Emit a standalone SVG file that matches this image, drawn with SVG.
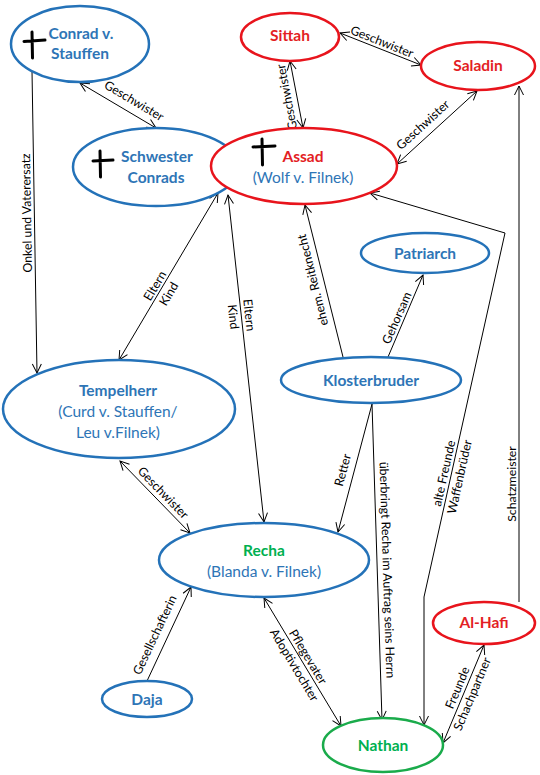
<svg xmlns="http://www.w3.org/2000/svg" width="540" height="775" viewBox="0 0 540 775">
<defs>
<marker id="arr" markerUnits="userSpaceOnUse" markerWidth="12" markerHeight="12" refX="9" refY="4.5" orient="auto-start-reverse" overflow="visible">
<path d="M0,0 L9,4.5 L0,9" fill="none" stroke="#000" stroke-width="1"/>
</marker>
<style>
.bg{fill:#fff}
.nb{fill:#fff;stroke:#2472b8;stroke-width:2.5}
.nr{fill:#fff;stroke:#e8141c;stroke-width:2.5}
.ng{fill:#fff;stroke:#1aab4b;stroke-width:2.5}
.t{font-family:Lato,"Liberation Sans",sans-serif;font-size:15.5px;text-anchor:middle}
.b{font-weight:bold}
.cb{fill:#2e75b6}
.cr{fill:#e31e24}
.cg{fill:#00b050}
.cross{stroke:#000;stroke-width:3;stroke-linecap:round;fill:none}
.e{fill:none;stroke:#000;stroke-width:1}
.bi{marker-start:url(#arr);marker-end:url(#arr)}
.un{marker-end:url(#arr)}
.l{font-family:Lato,"Liberation Sans",sans-serif;font-size:12.3px;text-anchor:middle;fill:#000}
</style>
</defs>
<rect class="bg" x="0" y="0" width="540" height="775"/>

<g id="connectors">
<line class="e bi" x1="80" y1="83" x2="156" y2="128"/>
<line class="e un" x1="32" y1="71" x2="37" y2="373"/>
<line class="e bi" x1="340" y1="33" x2="421" y2="65"/>
<line class="e bi" x1="290" y1="61" x2="303" y2="128"/>
<line class="e bi" x1="477" y1="91" x2="397" y2="164"/>
<line class="e bi" x1="218" y1="193" x2="119" y2="360"/>
<line class="e bi" x1="228" y1="195" x2="264" y2="522"/>
<line class="e un" x1="343" y1="357" x2="305" y2="205"/>
<line class="e un" x1="388" y1="357" x2="423" y2="275"/>
<polyline class="e bi" points="370,193 505,233 424,597 424,725"/>
<line class="e un" x1="519" y1="602" x2="519" y2="86"/>
<line class="e un" x1="372" y1="404" x2="338" y2="532"/>
<line class="e un" x1="372" y1="404" x2="382" y2="720"/>
<line class="e bi" x1="120" y1="461" x2="190" y2="533"/>
<line class="e un" x1="147" y1="681" x2="191" y2="587"/>
<line class="e bi" x1="264" y1="598" x2="341" y2="726"/>
<line class="e bi" x1="443" y1="743" x2="484" y2="645"/>

<text class="l" transform="translate(134,101) rotate(30.6)" y="4">Geschwister</text>
<text class="l" transform="translate(27,213) rotate(-91)" y="4">Onkel und Vaterersatz</text>
<text class="l" transform="translate(382,42) rotate(21.6)" y="4">Geschwister</text>
<text class="l" transform="translate(287,97) rotate(-100.8)" y="4">Geschwister</text>
<text class="l" transform="translate(423,125) rotate(-42.4)" y="4">Geschwister</text>
<text class="l" transform="translate(313,280) rotate(-104)" y="4">ehem. Reitknecht</text>
<text class="l" transform="translate(397,318) rotate(-66.4)" y="4">Gehorsam</text>
<text class="l" transform="translate(512,484) rotate(-90)" y="4">Schatzmeister</text>
<text class="l" transform="translate(343,470) rotate(-75)" y="4">Retter</text>
<text class="l" transform="translate(387,570) rotate(88.2)" y="4">überbringt Recha im Auftrag seins Herrn</text>
<text class="l" transform="translate(163,493) rotate(45.8)" y="4">Geschwister</text>
<text class="l" transform="translate(155,635) rotate(-64.7)" y="4">Gesellschafterin</text>
<text class="l" transform="translate(162,290) rotate(-59.3)"><tspan x="0" y="-4">Eltern</tspan><tspan x="0" y="12">Kind</tspan></text>
<text class="l" transform="translate(241,316) rotate(83.7)"><tspan x="0" y="-4">Eltern</tspan><tspan x="0" y="12">Kind</tspan></text>
<text class="l" transform="translate(452,475) rotate(-77.5)"><tspan x="0" y="-4">alte Freunde</tspan><tspan x="0" y="12">Waffenbrüder</tspan></text>
<text class="l" transform="translate(301,661) rotate(59)"><tspan x="0" y="-4">Pflegevater</tspan><tspan x="0" y="12">Adoptivtochter</tspan></text>
<text class="l" transform="translate(465,691) rotate(-67.3)"><tspan x="0" y="-4">Freunde</tspan><tspan x="0" y="12">Schachpartner</tspan></text>
</g>

<g id="conrad">
<ellipse class="nb" cx="80" cy="44" rx="69" ry="38"/>
<path class="cross" d="M32,32 L32.5,58 M24,41.5 L45,40"/>
<text class="t b cb" x="81" y="39">Conrad v.</text>
<text class="t b cb" x="80" y="59">Stauffen</text>
</g>

<g id="schwester">
<ellipse class="nb" cx="156" cy="167" rx="83" ry="39"/>
<path class="cross" d="M100,151 L100.5,177 M93,161 L113,160"/>
<text class="t b cb" x="157" y="162">Schwester</text>
<text class="t b cb" x="156" y="183">Conrads</text>
</g>

<g id="assad">
<ellipse class="nr" cx="304" cy="166" rx="93" ry="38"/>
<path class="cross" d="M262,139 L262.5,165 M253,147 L275,146"/>
<text class="t b cr" x="303" y="162">Assad</text>
<text class="t cb" x="303" y="183">(Wolf v. Filnek)</text>
</g>

<g id="sittah">
<ellipse class="nr" cx="290" cy="37" rx="49" ry="24"/>
<text class="t b cr" x="290" y="41">Sittah</text>
</g>

<g id="saladin">
<ellipse class="nr" cx="478" cy="66" rx="57" ry="24"/>
<text class="t b cr" x="478" y="71">Saladin</text>
</g>

<g id="patriarch">
<ellipse class="nb" cx="425" cy="253" rx="64" ry="20"/>
<text class="t b cb" x="425" y="259">Patriarch</text>
</g>

<g id="klosterbruder">
<ellipse class="nb" cx="371" cy="380" rx="90" ry="23"/>
<text class="t b cb" x="371" y="386">Klosterbruder</text>
</g>

<g id="tempelherr">
<ellipse class="nb" cx="119" cy="409" rx="116" ry="49"/>
<text class="t b cb" x="118" y="396">Tempelherr</text>
<text class="t cb" x="118" y="417">(Curd v. Stauffen/</text>
<text class="t cb" x="118" y="438">Leu v.Filnek)</text>
</g>

<g id="recha">
<ellipse class="nb" cx="264" cy="560" rx="105" ry="37"/>
<text class="t b cg" x="264" y="556">Recha</text>
<text class="t cb" x="264" y="577">(Blanda v. Filnek)</text>
</g>

<g id="daja">
<ellipse class="nb" cx="147" cy="699" rx="45" ry="18"/>
<text class="t b cb" x="147" y="705">Daja</text>
</g>

<g id="alhafi">
<ellipse class="nr" cx="484" cy="623" rx="51" ry="21"/>
<text class="t b cr" x="484" y="628">Al-Hafi</text>
</g>

<g id="nathan">
<ellipse class="ng" cx="383" cy="745" rx="60" ry="27"/>
<text class="t b cg" x="383" y="751">Nathan</text>
</g>
</svg>
